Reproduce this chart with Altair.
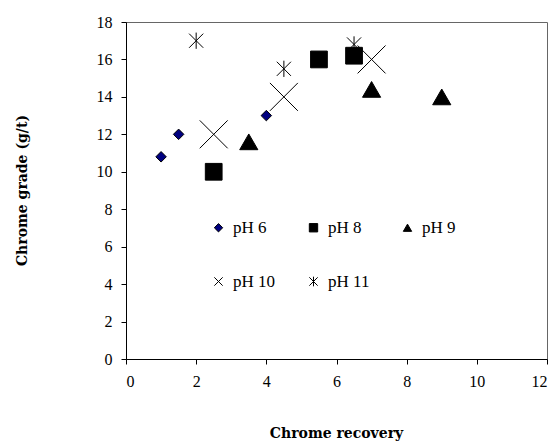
import altair as alt
import pandas as pd

series = ["pH 6", "pH 8", "pH 9", "pH 10", "pH 11"]
ph6_x = [1.0, 1.5, 4.0]
ph6_y = [10.8, 12.0, 13.0]
ph8_x = [2.5, 5.5, 6.5]
ph8_y = [10.0, 16.0, 16.2]
ph9_x = [3.5, 7.0, 9.0]
ph9_y = [11.6, 14.4, 14.0]
ph10_x = [2.5, 4.5, 7.0]
ph10_y = [12.0, 14.0, 16.0]
ph11_x = [2.0, 4.5, 6.5]
ph11_y = [17.0, 15.5, 16.8]

xs = [ph6_x, ph8_x, ph9_x, ph10_x, ph11_x]
ys = [ph6_y, ph8_y, ph9_y, ph10_y, ph11_y]
rows = []
for s, xv, yv in zip(series, xs, ys):
    for a, b in zip(xv, yv):
        rows.append({"series": s, "recovery": a, "grade": b})
df = pd.DataFrame(rows)

shapes = [
    "diamond",
    "square",
    "triangle-up",
    "M-1,-1L1,1M-1,1L1,-1",
    "M-1,-1L1,1M-1,1L1,-1M0,-1.15L0,1.15",
]
colors = ["#000080", "#000000", "#000000", "#000000", "#000000"]
mark_sizes = [110, 280, 330, 780, 200]

font = "Liberation Serif"
title_font = "DejaVu Serif"

x_enc = alt.X(
    "recovery:Q",
    scale=alt.Scale(domain=[0, 12], nice=False, zero=True),
    axis=alt.Axis(
        title="Chrome recovery",
        values=[0, 2, 4, 6, 8, 10, 12],
        grid=False,
        tickSize=5,
        labelPadding=9,
        titleX=210,
        titleY=74,
        titleBaseline="middle",
    ),
)
y_enc = alt.Y(
    "grade:Q",
    scale=alt.Scale(domain=[0, 18], nice=False),
    axis=alt.Axis(
        title="Chrome grade (g/t)",
        values=[0, 2, 4, 6, 8, 10, 12, 14, 16, 18],
        grid=False,
        tickSize=5,
        labelPadding=9,
        titleX=-104,
        titleY=168,
        titleBaseline="middle",
        titleAlign="center",
        titleAngle=-90,
    ),
)
legend = alt.Legend(
    title=None,
    orient="none",
    direction="horizontal",
    legendX=84,
    legendY=197,
    columns=3,
    columnPadding=29,
    rowPadding=36,
    symbolSize=70,
    labelFontSize=17,
    labelFont=font,
    labelColor="black",
    symbolStrokeColor="black",
    symbolStrokeWidth=1,
    labelOffset=6,
)
shape_enc = alt.Shape("series:N", scale=alt.Scale(domain=series, range=shapes), legend=legend)
color_enc = alt.Color("series:N", scale=alt.Scale(domain=series, range=colors), legend=legend)

layers = []
for s, sz in zip(series, mark_sizes):
    layers.append(
        alt.Chart(df)
        .transform_filter(alt.datum.series == s)
        .mark_point(filled=True, stroke="black", strokeWidth=1, opacity=1, size=sz)
        .encode(x=x_enc, y=y_enc, shape=shape_enc, color=color_enc)
    )

chart = alt.layer(*layers).properties(
    width=421,
    height=337,
    autosize=alt.AutoSizeParams(type="none"),
    padding={"left": 126, "top": 22, "right": 8, "bottom": 85},
).configure_view(
    stroke="#666666", strokeWidth=1
).configure_axis(
    domainColor="black",
    tickColor="black",
    labelFont=font,
    labelFontSize=16,
    labelColor="black",
    titleFont=title_font,
    titleFontSize=14,
    titleFontWeight="bold",
    titleColor="black",
)

chart.save("out.html", embed_options={"renderer": "svg", "actions": False})
